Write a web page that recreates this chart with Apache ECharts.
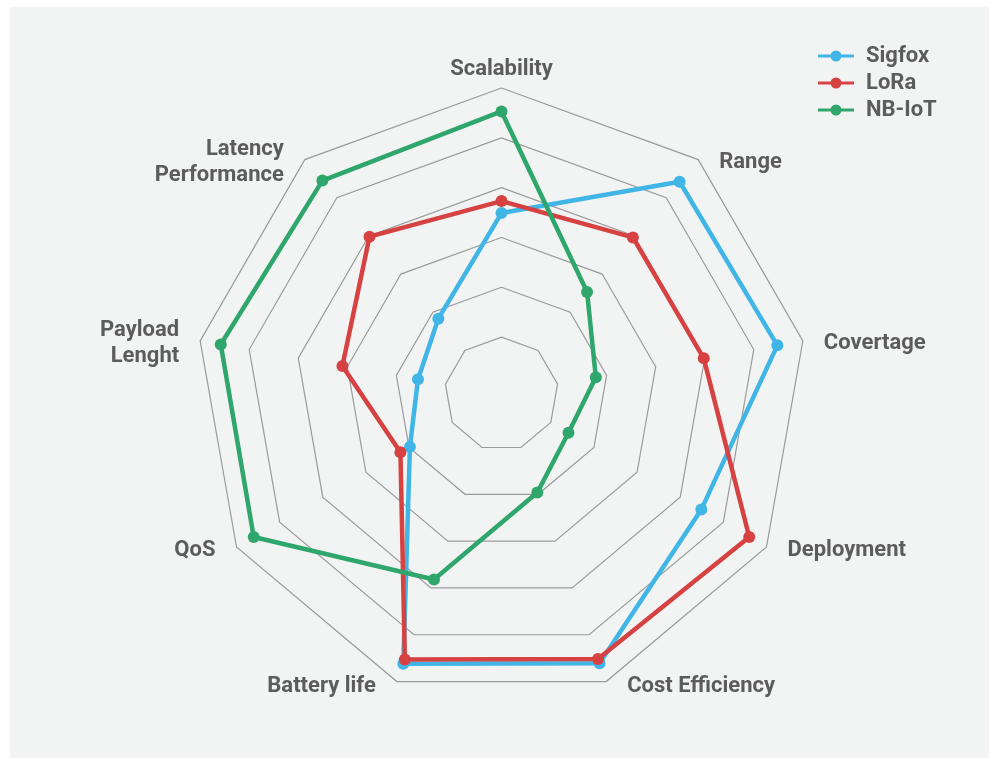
<!DOCTYPE html>
<html>
<head>
<meta charset="utf-8">
<title>LPWAN radar</title>
<script src="https://cdn.jsdelivr.net/npm/echarts@6/dist/echarts.min.js"></script>
<style>
    html, body {
        margin: 0;
        padding: 0;
        background: #ffffff;
    }
    #main {
        position: absolute;
        left: 10px;
        top: 7px;
        width: 979px;
        height: 751px;
        background: #f2f4f3;
    }
</style>
</head>
<body>
<div id="main"></div>
<script>
// indicators, counter-clockwise from the top
var indicators = ['Scalability', 'Latency\nPerformance', 'Payload\nLenght', 'QoS', 'Battery life',
    'Cost Efficiency', 'Deployment', 'Covertage', 'Range'];
// values on the ring scale: innermost ring = 1, outer ring = 6
var sigfox = [3.49, 1.83, 1.56, 1.98, 5.62, 5.61, 4.49, 5.48, 5.42];
var lora = [3.73, 3.98, 3.10, 2.20, 5.53, 5.52, 5.60, 3.98, 3.96];
var nbiot = [5.53, 5.45, 5.58, 5.60, 3.82, 1.96, 1.41, 1.78, 2.53];
var seriesNames = ['Sigfox', 'LoRa', 'NB-IoT'];
var ringValues = [1, 2, 3, 4, 5, 6];

function render() {
    var myChart = echarts.init(document.getElementById('main'));

    // the innermost ring is not at the centre, so the axis runs in sevenths:
    // value v sits at 7 * v on an axis from -1 to 42, and only every 7th split is drawn
    var colors = ['#41b6e6', '#d64142', '#2fa66b'];
    var ringColors = [];
    for (var i = 0; i <= 43; i++) {
        var v = i - 1;
        ringColors.push(v % 7 == 0 && ringValues.indexOf(v / 7) >= 0 ? '#9b9b9b' : 'rgba(0,0,0,0)');
    }

    var toAxis = function (arr) {
        return arr.map(function (v) { return +(v * 7).toFixed(3); });
    };
    var sets = [sigfox, lora, nbiot];

    var series = [];
    for (var s = 0; s < sets.length; s++) {
        series.push({
            name: seriesNames[s],
            type: 'radar',
            symbol: 'circle',
            symbolSize: 12,
            lineStyle: {width: 4.5, color: colors[s]},
            itemStyle: {color: colors[s]},
            data: [{name: seriesNames[s], value: toAxis(sets[s])}]
        });
    }

    var option = {
        animation: false,
        legend: {
            orient: 'vertical',
            left: 803,
            top: 33,
            itemWidth: 36,
            itemHeight: 11,
            itemGap: 5,
            icon: 'path://M0,4h36v3h-36z M12.5,5.5A5.5,5.5 0 1,1 23.5,5.5A5.5,5.5 0 1,1 12.5,5.5z',
            textStyle: {
                color: '#5c5c5c',
                fontFamily: 'Roboto',
                fontWeight: 'bold',
                fontSize: 22,
                lineHeight: 22,
                padding: [0, 0, 0, 7]
            },
            data: seriesNames
        },
        radar: {
            center: [491.5, 387],
            radius: 306,
            startAngle: 90,
            shape: 'polygon',
            splitNumber: 43,
            nameGap: 0,
            axisName: {
                color: '#5c5c5c',
                fontFamily: 'Roboto',
                fontWeight: 'bold',
                fontSize: 22,
                lineHeight: 26,
                padding: [0, 21, 6, 21],
                // an empty first line nudges the side labels down a little
                formatter: function (name) {
                    var low = name == 'Battery life' || name == 'Cost Efficiency';
                    return (low ? '{gapL| }' : '{gap| }') + '\n' + name;
                },
                rich: {
                    gap: {fontSize: 6, lineHeight: 12},
                    gapL: {fontSize: 6, lineHeight: 15}
                }
            },
            axisLine: {show: false},
            axisTick: {show: false},
            axisLabel: {show: false},
            splitArea: {show: false},
            splitLine: {lineStyle: {color: ringColors, width: 1.2}},
            indicator: indicators.map(function (n) {
                return {name: n, min: -1, max: 42};
            })
        },
        series: series
    };

    myChart.setOption(option);
}

render();
</script>
</body>
</html>
